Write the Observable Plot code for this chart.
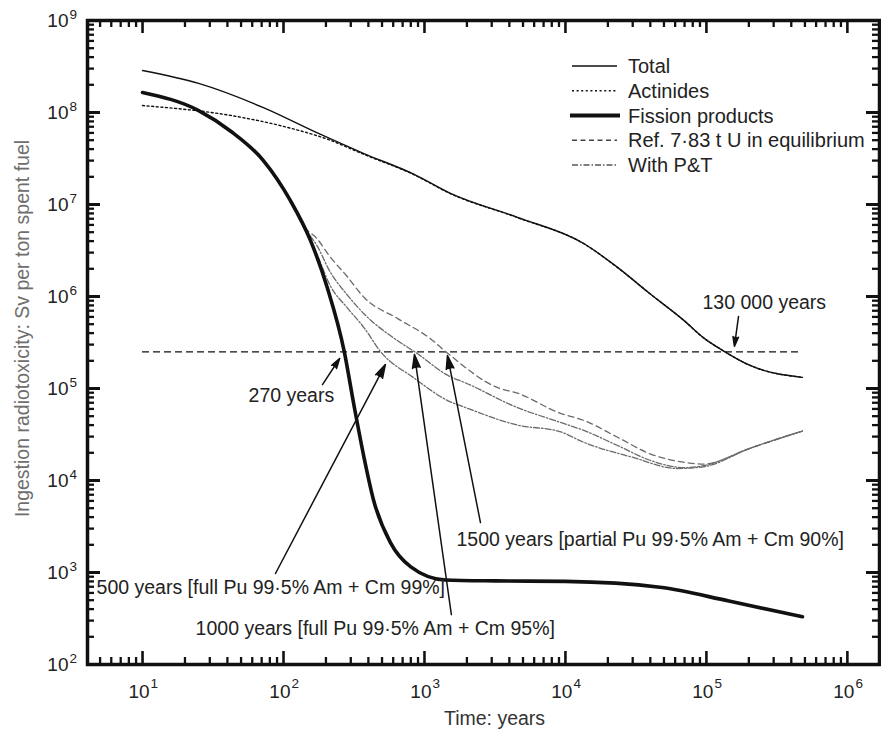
<!DOCTYPE html>
<html>
<head>
<meta charset="utf-8">
<script src="https://cdn.jsdelivr.net/npm/d3@7"></script>
<script src="https://cdn.jsdelivr.net/npm/@observablehq/plot@0.6"></script>
<style>
  body { margin: 0; background: #fff; }
  #wrap { position: relative; width: 881px; height: 731px; font-family: "Liberation Sans", Arial, sans-serif; }
  #wrap svg.legend { position: absolute; left: 0; top: 0; pointer-events: none; }
</style>
</head>
<body>
<div id="wrap"></div>
<script>
// ---------- data ----------
const totalYears = [10, 25, 72, 174, 372, 832, 1514, 4571, 13490, 23440, 39810, 69180, 95500, 131800, 204200, 480000];
const totalSv    = [2.86e8, 2.07e8, 1.13e8, 6.0e7, 3.58e7, 2.15e7, 1.33e7, 7.24e6, 3.77e6, 2.07e6, 1.07e6, 5.5e5, 3.55e5, 2.57e5, 1.78e5, 1.32e5];

const actinideYears = [10, 42, 95, 214, 372, 832, 1514, 4571, 13490, 23440, 39810, 69180, 95500, 131800, 204200, 480000];
const actinideSv    = [1.19e8, 9.3e7, 7.2e7, 5.0e7, 3.5e7, 2.13e7, 1.32e7, 7.2e6, 3.75e6, 2.06e6, 1.07e6, 5.5e5, 3.55e5, 2.57e5, 1.78e5, 1.32e5];

const fissionYears = [10, 25, 42, 72, 112, 155, 204, 270, 316, 372, 437, 575, 800, 1400, 3162, 10000, 46800, 144500, 480000];
const fissionSv    = [1.65e8, 1.05e8, 6.3e7, 3.0e7, 1.1e7, 4.1e6, 1.26e6, 2.5e5, 6.6e4, 1.8e4, 6.0e3, 2.1e3, 1.15e3, 830, 810, 800, 690, 490, 330];

// With P&T scenarios
const pt1500Years = [10, 25, 42, 72, 112, 138, 174, 214, 282, 372, 646, 1096, 1445, 3311, 4571, 9120, 13490, 23440, 39810, 69180, 95500, 204200, 480000];
const pt1500Sv    = [1.65e8, 1.05e8, 6.3e7, 3.0e7, 1.1e7, 5.9e6, 4.2e6, 2.7e6, 1.66e6, 9.8e5, 5.75e5, 3.5e5, 2.45e5, 1.02e5, 8.9e4, 5.4e4, 4.5e4, 2.95e4, 1.95e4, 1.58e4, 1.51e4, 2.24e4, 3.45e4];

const pt1000Years = [10, 25, 42, 72, 112, 138, 174, 214, 282, 372, 646, 871, 1514, 1905, 4571, 9120, 13490, 23440, 39810, 69180, 95500, 204200, 480000];
const pt1000Sv    = [1.65e8, 1.05e8, 6.3e7, 3.0e7, 1.1e7, 5.9e6, 3.5e6, 1.86e6, 1.05e6, 6.5e5, 3.3e5, 2.45e5, 1.35e5, 1.17e5, 6.2e4, 4.3e4, 3.5e4, 2.4e4, 1.66e4, 1.38e4, 1.45e4, 2.24e4, 3.45e4];

const pt500Years = [10, 25, 42, 72, 112, 138, 174, 214, 282, 372, 490, 832, 1514, 1905, 4571, 9120, 13490, 30200, 61660, 95500, 204200, 480000];
const pt500Sv    = [1.65e8, 1.05e8, 6.3e7, 3.0e7, 1.1e7, 5.9e6, 2.8e6, 1.32e6, 7.6e5, 4.6e5, 2.5e5, 1.32e5, 7.2e4, 6.3e4, 4.0e4, 3.4e4, 2.6e4, 1.78e4, 1.35e4, 1.41e4, 2.24e4, 3.45e4];

// Reference level (Ref. 7·83 t U in equilibrium)
const refLevelSv = 2.5e5;
const refYears = [10, 480000];

// Annotations
const annoLabels = [
  "130 000 years",
  "270 years",
  "500 years [full Pu 99·5% Am + Cm 99%]",
  "1000 years [full Pu 99·5% Am + Cm 95%]",
  "1500 years [partial Pu 99·5% Am + Cm 90%]"
];
const annoTextYear = [9.38e4, 56.5, 4.72, 23.8, 1687];
const annoTextSv   = [8.6e5, 8.4e4, 687, 246, 2286];
const arrowFromYear = [1.69e5, 189, 87.7, 1552, 2496];
const arrowFromSv   = [6.07e5, 1.1e5, 975, 349, 3490];
const arrowToYear   = [1.58e5, 250, 528, 849, 1456];
const arrowToSv     = [2.87e5, 2.12e5, 1.82e5, 2.34e5, 2.28e5];

// Axes
const xTickExps = [1, 2, 3, 4, 5, 6];
const yTickExps = [2, 3, 4, 5, 6, 7, 8, 9];
const xTitle = "Time: years";
const yTitle = "Ingestion radiotoxicity: Sv per ton spent fuel";
const legendLabels = ["Total", "Actinides", "Fission products", "Ref. 7·83 t U in equilibrium", "With P&T"];

// ---------- build ----------
const W = 881, H = 731, mL = 87, mR = 2, mT = 20, mB = 67;
const plotW = W - mL - mR, plotH = H - mT - mB;
const xDomain = [4.07, 1.69e6];
const yDomain = [1e2, 1e9];

const table = (xs, ys) => xs.map((year, i) => ({year, sv: ys[i]}));
const total = table(totalYears, totalSv);
const actinides = table(actinideYears, actinideSv);
const fission = table(fissionYears, fissionSv);
const pt1500 = table(pt1500Years, pt1500Sv);
const pt1000 = table(pt1000Years, pt1000Sv);
const pt500 = table(pt500Years, pt500Sv);

const annos = annoLabels.map((label, i) => ({
  label, tx: annoTextYear[i], ty: annoTextSv[i],
  x1: arrowFromYear[i], y1: arrowFromSv[i], x2: arrowToYear[i], y2: arrowToSv[i]
}));

function logTicks(lo, hi) {
  const out = [];
  for (let n = -1; n <= 10; n++) for (let k = 1; k <= 9; k++) {
    const v = k * Math.pow(10, n);
    if (v >= lo * 0.999 && v <= hi * 1.001) out.push({v, major: k === 1});
  }
  return out;
}
const xt = logTicks(xDomain[0], xDomain[1]);
const yt = logTicks(yDomain[0], yDomain[1]);
const xMaj = xt.filter(d => d.major), xMin = xt.filter(d => !d.major);
const yMaj = yt.filter(d => d.major), yMin = yt.filter(d => !d.major);

const ink = "#111";
const txt = "#222";
const gray = "#6a6a6a";
const majLen = 13, minLen = 7;

const chart = Plot.plot({
  width: W, height: H,
  marginLeft: mL, marginRight: mR, marginTop: mT, marginBottom: mB,
  style: {fontFamily: "Liberation Sans, Arial, sans-serif", background: "white", color: ink},
  x: {type: "log", domain: xDomain, axis: null},
  y: {type: "log", domain: yDomain, axis: null},
  marks: [
    // reference level
    Plot.ruleY([refLevelSv], {x1: refYears[0], x2: refYears[1], stroke: ink, strokeWidth: 1.3, strokeDasharray: "7,4"}),
    // P&T curves
    Plot.line(pt1500, {x: "year", y: "sv", stroke: gray, strokeWidth: 1.3, strokeDasharray: "6,4", curve: "monotone-x"}),
    Plot.line(pt1000, {x: "year", y: "sv", stroke: gray, strokeWidth: 1.3, strokeDasharray: "6,2,1.5,2", curve: "monotone-x"}),
    Plot.line(pt500, {x: "year", y: "sv", stroke: gray, strokeWidth: 1.3, strokeDasharray: "6,2,1.5,2", curve: "monotone-x"}),
    // main curves
    Plot.line(actinides, {x: "year", y: "sv", stroke: ink, strokeWidth: 1.4, strokeDasharray: "2,2.6", curve: "monotone-x"}),
    Plot.line(total, {x: "year", y: "sv", stroke: ink, strokeWidth: 1.4, curve: "monotone-x"}),
    Plot.line(fission, {x: "year", y: "sv", stroke: ink, strokeWidth: 3.6, curve: "monotone-x"}),
    // annotations
    Plot.arrow(annos, {x1: "x1", y1: "y1", x2: "x2", y2: "y2", stroke: ink, fill: ink, strokeWidth: 1.5, headLength: 14, headAngle: 32}),
    Plot.text(annos, {x: "tx", y: "ty", text: "label", textAnchor: "start", lineAnchor: "middle", fontSize: 19.5, fill: txt}),
    // frame & inward ticks
    Plot.frame({stroke: ink, strokeWidth: 3.5}),
    Plot.tickX(xMaj, {x: "v", insetTop: plotH - majLen, stroke: ink, strokeWidth: 2.6}),
    Plot.tickX(xMin, {x: "v", insetTop: plotH - minLen, stroke: ink, strokeWidth: 2.3}),
    Plot.tickX(xMaj, {x: "v", insetBottom: plotH - majLen, stroke: ink, strokeWidth: 2.6}),
    Plot.tickX(xMin, {x: "v", insetBottom: plotH - minLen, stroke: ink, strokeWidth: 2.3}),
    Plot.tickY(yMaj, {y: "v", insetRight: plotW - majLen, stroke: ink, strokeWidth: 3}),
    Plot.tickY(yMin, {y: "v", insetRight: plotW - minLen, stroke: ink, strokeWidth: 2.3}),
    Plot.tickY(yMaj, {y: "v", insetLeft: plotW - majLen, stroke: ink, strokeWidth: 3}),
    Plot.tickY(yMin, {y: "v", insetLeft: plotW - minLen, stroke: ink, strokeWidth: 2.3}),
    // tick labels (10 with superscript exponent)
    Plot.text(yTickExps, {frameAnchor: "left", y: e => Math.pow(10, e), text: () => "10", textAnchor: "end", lineAnchor: "bottom", dx: -19, dy: 6, fontSize: 19, fill: txt}),
    Plot.text(yTickExps, {frameAnchor: "left", y: e => Math.pow(10, e), text: e => String(e), textAnchor: "start", lineAnchor: "bottom", dx: -18, dy: -2, fontSize: 13.5, fill: txt}),
    Plot.text(xTickExps, {frameAnchor: "bottom", x: e => Math.pow(10, e), text: () => "10", textAnchor: "end", lineAnchor: "bottom", dx: 7, dy: 33, fontSize: 19, fill: txt}),
    Plot.text(xTickExps, {frameAnchor: "bottom", x: e => Math.pow(10, e), text: e => String(e), textAnchor: "start", lineAnchor: "bottom", dx: 8, dy: 23, fontSize: 13.5, fill: txt}),
    // axis titles
    Plot.text([xTitle], {frameAnchor: "bottom", dx: 11, dy: 54, text: d => d, textAnchor: "middle", lineAnchor: "middle", fontSize: 19.5, fill: "#333"}),
    Plot.text([yTitle], {frameAnchor: "left", dx: -65, dy: -14, text: d => d, rotate: -90, textAnchor: "middle", lineAnchor: "middle", fontSize: 19.5, fill: "#6e6e6e"})
  ]
});

const wrap = document.getElementById("wrap");
wrap.appendChild(chart);

// ---------- legend overlay ----------
const legendStyle = [
  {stroke: ink, width: 1.3, dash: null, x1: 572, x2: 617},
  {stroke: ink, width: 1.3, dash: "2,2.6", x1: 572, x2: 617},
  {stroke: ink, width: 4.2, dash: null, x1: 570, x2: 620},
  {stroke: "#444", width: 1.3, dash: "5,3.5", x1: 572, x2: 617},
  {stroke: "#555", width: 1.3, dash: "6,2,1.5,2", x1: 572, x2: 617}
];
const lg = d3.create("svg").attr("class", "legend").attr("width", W).attr("height", H);
legendLabels.forEach((label, i) => {
  const st = legendStyle[i];
  const yy = 66 + i * 24.75;
  lg.append("line").attr("x1", st.x1).attr("x2", st.x2).attr("y1", yy).attr("y2", yy)
    .attr("stroke", st.stroke).attr("stroke-width", st.width).attr("stroke-dasharray", st.dash);
  lg.append("text").attr("x", 628).attr("y", yy + 7).attr("fill", txt)
    .attr("font-size", 20).attr("font-family", "Liberation Sans, Arial, sans-serif").text(label);
});
wrap.appendChild(lg.node());
</script>
</body>
</html>
